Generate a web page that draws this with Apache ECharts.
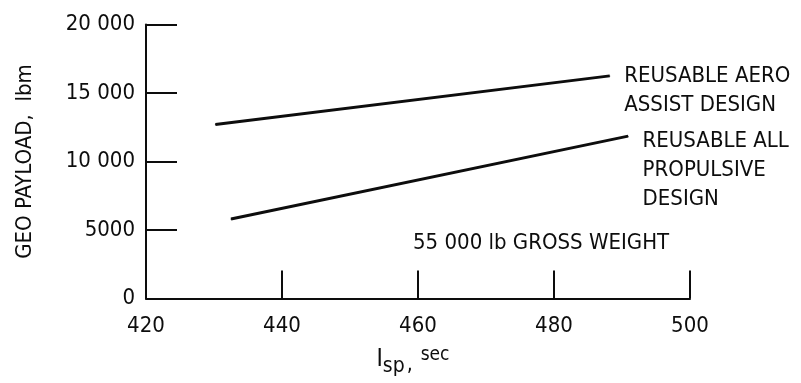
<!DOCTYPE html>
<html>
<head>
<meta charset="utf-8">
<script src="https://cdn.jsdelivr.net/npm/echarts@6/dist/echarts.min.js"></script>
<style>
html,body{margin:0;padding:0;background:#fff;}
#c{width:801px;height:383px;}
</style>
</head>
<body>
<div id="c"></div>
<script>
var FONT = "'DejaVu Sans Condensed', 'Liberation Sans Narrow', sans-serif";
var INK = '#0d0d0d';

var aeroIsp = [430.2, 488.2];
var aeroPayload = [12700, 16250];
var propIsp = [432.5, 490.9];
var propPayload = [5800, 11850];

var aeroLabel = 'REUSABLE AERO\nASSIST DESIGN';
var propLabel = 'REUSABLE ALL\nPROPULSIVE\nDESIGN';
var noteText = '55 000 lb GROSS WEIGHT';

var xTicks = [420, 440, 460, 480, 500];
var yTicks = [0, 5000, 10000, 15000, 20000];
var yTickLabels = ['0', '5000', '10 000', '15 000', '20 000'];

function seriesData(xs, ys, label, offY) {
  return xs.map(function (x, i) {
    var d = { value: [x, ys[i]] };
    if (i === xs.length - 1) {
      d.label = {
        show: true, position: 'right', distance: 14, offset: [0, offY],
        formatter: label, color: INK, fontFamily: FONT, fontSize: 22, lineHeight: 29
      };
    }
    return d;
  });
}

var chart = echarts.init(document.getElementById('c'), null, { renderer: 'canvas' });
chart.setOption({
  animation: false,
  backgroundColor: '#fff',
  grid: { left: 146, right: 111, top: 24.5, bottom: 84.5, containLabel: false, outerBoundsMode: 'none' },
  xAxis: {
    type: 'value', min: xTicks[0], max: xTicks[xTicks.length - 1], interval: 20,
    name: '{i|I}{sub|sp}{c|,}{sup|sec}',
    nameLocation: 'middle', nameGap: 38,
    nameTextStyle: {
      color: INK, fontFamily: FONT,
      rich: {
        i: { fontSize: 24, fontFamily: FONT, color: INK, lineHeight: 30 },
        sub: { fontSize: 21, fontFamily: FONT, color: INK, lineHeight: 30, padding: [14, 0, 0, 0] },
        c: { fontSize: 21, fontFamily: FONT, color: INK, lineHeight: 30, padding: [12, 8, 0, 2] },
        sup: { fontSize: 19, fontFamily: FONT, color: INK, lineHeight: 30, padding: [0, 10, 10, 0] }
      }
    },
    axisLine: { show: true, lineStyle: { color: INK, width: 2 } },
    axisTick: { show: true, inside: true, length: 28, lineStyle: { color: INK, width: 2 } },
    axisLabel: { color: INK, fontFamily: FONT, fontSize: 22, margin: 17 },
    splitLine: { show: false }
  },
  yAxis: {
    type: 'value', min: yTicks[0], max: yTicks[yTicks.length - 1], interval: 5000,
    name: 'GEO PAYLOAD,  lbm',
    nameLocation: 'middle', nameGap: 110, nameRotate: 90,
    nameTextStyle: { color: INK, fontFamily: FONT, fontSize: 22 },
    axisLine: { show: true, lineStyle: { color: INK, width: 2 } },
    axisTick: { show: true, inside: true, length: 31, lineStyle: { color: INK, width: 2 } },
    axisLabel: {
      color: INK, fontFamily: FONT, fontSize: 22, margin: 11,
      formatter: function (v) { var k = yTicks.indexOf(v); return k >= 0 ? yTickLabels[k] : ''; }
    },
    splitLine: { show: false }
  },
  series: [
    {
      type: 'line', data: seriesData(aeroIsp, aeroPayload, aeroLabel, 15),
      showSymbol: true, symbol: 'circle', symbolSize: 1,
      itemStyle: { color: INK }, lineStyle: { color: INK, width: 3 }, clip: false
    },
    {
      type: 'line', data: seriesData(propIsp, propPayload, propLabel, 34),
      showSymbol: true, symbol: 'circle', symbolSize: 1,
      itemStyle: { color: INK }, lineStyle: { color: INK, width: 3 }, clip: false
    }
  ],
  graphic: [{
    type: 'text', left: 413, top: 232,
    style: { text: noteText, fill: INK, font: '22px ' + FONT }
  }]
});
</script>
</body>
</html>
